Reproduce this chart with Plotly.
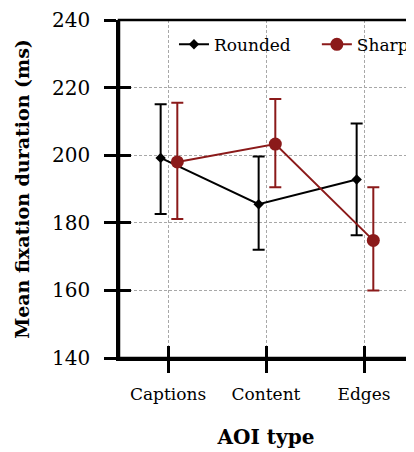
import plotly.graph_objects as go

categories = ["Captions", "Content", "Edges"]
rounded_mean = [199.2, 185.5, 192.8]
rounded_upper = [215.1, 199.6, 209.4]
rounded_lower = [182.6, 172.0, 176.3]
sharp_mean = [198.0, 203.3, 174.8]
sharp_upper = [215.5, 216.6, 190.5]
sharp_lower = [181.1, 190.5, 160.0]
y_ticks = [140, 160, 180, 200, 220, 240]

FONT = "DejaVu Serif"
BLACK = "#000000"
RED = "#8b1a1a"

xpos = list(range(len(categories)))
r_off = -0.075
s_off = 0.095

fig = go.Figure()
fig.add_trace(go.Scatter(
    x=[p + r_off for p in xpos], y=rounded_mean, name="Rounded",
    mode="lines+markers", legend="legend",
    line=dict(color=BLACK, width=2),
    marker=dict(symbol="diamond", size=8, color=BLACK),
    error_y=dict(type="data", symmetric=False,
                 array=[u - m for u, m in zip(rounded_upper, rounded_mean)],
                 arrayminus=[m - l for m, l in zip(rounded_mean, rounded_lower)],
                 color=BLACK, thickness=2, width=6),
))
fig.add_trace(go.Scatter(
    x=[p + s_off for p in xpos], y=sharp_mean, name="Sharp",
    mode="lines+markers", legend="legend2",
    line=dict(color=RED, width=2),
    marker=dict(symbol="circle", size=13, color=RED),
    error_y=dict(type="data", symmetric=False,
                 array=[u - m for u, m in zip(sharp_upper, sharp_mean)],
                 arrayminus=[m - l for m, l in zip(sharp_mean, sharp_lower)],
                 color=RED, thickness=2, width=6),
))
# invisible helper trace for overlay axes (inside tick marks)
fig.add_trace(go.Scatter(x=xpos, y=rounded_mean, xaxis="x2", yaxis="y2",
                         mode="markers", marker=dict(opacity=0),
                         showlegend=False, hoverinfo="skip"))

grid = dict(showgrid=True, gridcolor="#a8a8a8", griddash="3px,2px", gridwidth=1)
leg = dict(orientation="h", y=0.98, xanchor="left", yanchor="top",
           font=dict(size=17, family=FONT), bgcolor="rgba(0,0,0,0)")

fig.update_layout(
    width=414, height=452,
    margin=dict(l=111, r=9, t=12, b=102, autoexpand=False),
    paper_bgcolor="white", plot_bgcolor="white",
    font=dict(family=FONT, color=BLACK),
    showlegend=True,
    legend=dict(x=0.187, **leg),
    legend2=dict(x=0.673, **leg),
    xaxis=dict(range=[-0.5, 2.5], tickmode="array", tickvals=xpos, ticktext=categories,
               ticks="outside", ticklen=12, tickwidth=2.5, tickcolor=BLACK,
               showline=True, linewidth=2.5, linecolor=BLACK, mirror=False,
               zeroline=False, tickfont=dict(size=17, family=FONT),
               ticklabelstandoff=7, automargin=False,
               title=dict(text="AOI type", font=dict(size=20, family=FONT, weight="bold"), standoff=27),
               **grid),
    yaxis=dict(range=[140, 240], tickmode="array", tickvals=y_ticks,
               ticks="outside", ticklen=12, tickwidth=2.5, tickcolor=BLACK,
               showline=True, linewidth=2.5, linecolor=BLACK, mirror=False,
               zeroline=False, tickfont=dict(size=20, family=FONT),
               ticklabelstandoff=10, automargin=False,
               title=dict(text="Mean fixation duration (ms)", font=dict(size=19, family=FONT, weight="bold"), standoff=18),
               **grid),
    xaxis2=dict(overlaying="x", range=[-0.5, 2.5], tickmode="array", tickvals=xpos,
                ticks="inside", ticklen=12, tickwidth=2.5, tickcolor=BLACK,
                showticklabels=False, showgrid=False, showline=False, zeroline=False,
                side="bottom", automargin=False),
    yaxis2=dict(overlaying="y", range=[140, 240], tickmode="array", tickvals=y_ticks,
                ticks="inside", ticklen=12, tickwidth=2.5, tickcolor=BLACK,
                showticklabels=False, showgrid=False, showline=False, zeroline=False,
                side="left", automargin=False),
    shapes=[dict(type="rect", xref="paper", yref="paper", x0=0, x1=1, y0=0, y1=1,
                 line=dict(color=BLACK, width=2.5), layer="above")],
)

fig.write_html("out.html")
